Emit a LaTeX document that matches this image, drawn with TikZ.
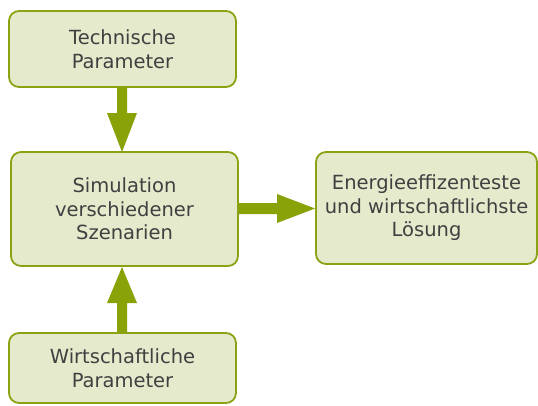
\documentclass[tikz,border=0pt]{standalone}
\usepackage{fontspec}
\setmainfont{DejaVu Sans}
\definecolor{boxfill}{HTML}{E5EACC}
\definecolor{boxline}{HTML}{8AA313}
\definecolor{arrowcol}{HTML}{88A208}
\definecolor{txt}{HTML}{404040}
\begin{document}
\begin{tikzpicture}[x=1pt,y=-1pt,
  box/.style={draw=boxline,line width=1.8pt,fill=boxfill,rounded corners=10pt,
    inner sep=0pt,align=center,text=txt,font=\fontsize{19.5}{23.5}\selectfont},
  fat/.style={fill=arrowcol,draw=none}]
\useasboundingbox (0,0) rectangle (538,405);
\node[box,minimum width=227pt,minimum height=76pt] (tech) at (122.5,49) {Technische\\Parameter};
\node[box,minimum width=227pt,minimum height=114pt] (sim) at (124.5,209) {Simulation\\verschiedener\\Szenarien};
\node[box,minimum width=227pt,minimum height=70pt] (wirt) at (122.5,368) {Wirtschaftliche\\Parameter};
\node[box,minimum width=221pt,minimum height=112pt] (loes) at (426.5,208) {Energieeffizenteste\\und wirtschaftlichste\\Lösung};
% arrow tech -> sim
\fill[fat] (tech.south -| 117,0) -- (117,113) -- (107,113) -- (122,152) -- (137,113) -- (127,113) -- (tech.south -| 127,0) -- cycle;
% arrow wirt -> sim
\fill[fat] (wirt.north -| 117,0) -- (117,303) -- (107,303) -- (122,267) -- (137,303) -- (127,303) -- (wirt.north -| 127,0) -- cycle;
% arrow sim -> loes
\fill[fat] (sim.east |- 0,203) -- (277,203) -- (277,194) -- (loes.west |- 0,208.5) -- (277,223) -- (277,214) -- (sim.east |- 0,214) -- cycle;
\end{tikzpicture}
\end{document}
